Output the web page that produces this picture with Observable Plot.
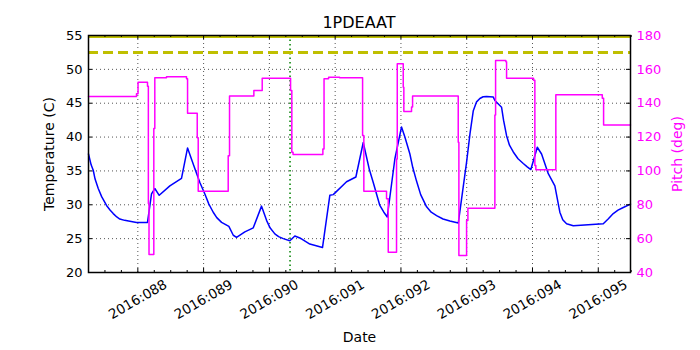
<!DOCTYPE html>
<html><head><meta charset="utf-8">
<script src="https://cdn.jsdelivr.net/npm/d3@7"></script>
<script src="https://cdn.jsdelivr.net/npm/@observablehq/plot@0.6"></script>
<style>
body{margin:0;background:#fff;font-family:"DejaVu Sans",sans-serif;}
#wrap{position:relative;width:700px;height:350px;}
#title{position:absolute;left:88px;width:542px;top:13px;text-align:center;font-size:16px;line-height:20px;color:#000;}
#chart{position:absolute;left:0;top:0;}
</style></head><body>
<div id="wrap"><div id="chart"></div><div id="title">1PDEAAT</div></div>
<script>
// Temperature (C) samples: day-of-year 2016
const tempDays = [87.25,87.29,87.322,87.35,87.398,87.45,87.524,87.58,87.626,87.68,87.726,87.80,87.859,87.980,88.147,88.208,88.258,88.325,88.487,88.664,88.756,88.85,88.943,89.019,89.08,89.146,89.2,89.273,89.384,89.451,89.501,89.627,89.755,89.881,89.957,90.01,90.083,90.14,90.211,90.311,90.387,90.463,90.615,90.808,90.919,90.971,91.173,91.315,91.427,91.52,91.579,91.679,91.74,91.792,91.908,92.009,92.06,92.136,92.18,92.237,92.30,92.390,92.46,92.542,92.64,92.744,92.872,92.998,93.05,93.100,93.150,93.200,93.25,93.302,93.404,93.428,93.530,93.56,93.606,93.65,93.708,93.78,93.860,93.92,93.975,94.073,94.138,94.240,94.340,94.416,94.46,94.518,94.620,95.076,95.15,95.228,95.3,95.380,95.49];
const tempValues = [37.5,35.9,35.1,33.8,32.4,31.2,29.9,29.2,28.7,28.2,27.9,27.7,27.6,27.4,27.4,31.6,32.4,31.4,32.8,33.9,38.4,35.8,33.3,31.6,30.1,28.9,28.1,27.4,26.8,25.5,25.2,26.0,26.6,29.8,27.7,26.6,25.7,25.3,25.0,24.7,25.4,25.1,24.2,23.7,31.4,31.5,33.4,34.1,39.2,35.2,33.3,29.9,28.9,28.2,36.8,41.5,40.0,37.5,35.5,33.5,31.5,29.7,28.9,28.4,27.9,27.6,27.3,36.3,40.5,43.9,45.2,45.7,45.95,46.0,45.9,45.4,44.4,42.5,40.2,38.8,37.8,36.8,36.1,35.6,35.2,38.5,37.5,34.6,32.8,28.9,27.8,27.2,26.9,27.2,27.9,28.7,29.2,29.6,30.1];
// Pitch (deg) step changes
const pitchDays = [87.25,87.98,88.003,88.147,88.160,88.170,88.243,88.258,88.436,88.740,88.756,88.903,88.918,89.374,89.394,89.764,89.891,90.322,90.341,90.360,90.813,90.831,90.900,91.067,91.417,91.436,91.781,91.807,91.933,91.944,92.035,92.044,92.161,92.177,92.871,92.881,92.998,93.018,93.428,93.439,93.595,93.606,94.016,94.036,94.051,94.355,95.061,95.081,95.49];
const pitchValues = [144,145.6,152.4,150,80.8,50.6,125,155,155.6,154.5,134,119.6,88,109,144.2,147.5,154.8,147.5,111,109.7,113,154.4,155.4,155,121,88,83.5,52,107,163.3,149.5,135.1,137.7,144.2,117,50,70.7,78,133,165.2,164.5,154.8,153.5,103.2,100.7,145,143,127.2,127.2];

const dayTicks = [88,89,90,91,92,93,94,95];
const dayLabels = ["2016:088","2016:089","2016:090","2016:091","2016:092","2016:093","2016:094","2016:095"];
const minorDays = d3.range(87.25, 95.5001, 0.25).filter(d => !dayTicks.includes(d));
const tempTicks = [20,25,30,35,40,45,50,55];
const pitchTicks = [40,60,80,100,120,140,160,180];
const warnLimit = 52.5;
const topLimit = 55;
const nowDay = 90.314;
const xDomain = [87.25, 95.49];
const tDomain = [20, 55];
const pDomain = [40, 180];

const p2t = p => tDomain[0] + (p - pDomain[0]) * (tDomain[1]-tDomain[0]) / (pDomain[1]-pDomain[0]);
const temp = tempDays.map((d,i) => ({d, v: tempValues[i]}));
const pitch = pitchDays.map((d,i) => ({d, v: p2t(pitchValues[i])}));

const W = 700, H = 350, mL = 88, mR = 70, mT = 35, mB = 78;
const pxY = (tDomain[1]-tDomain[0]) / (H - mT - mB);   // data units per px (y)
const pxX = (xDomain[1]-xDomain[0]) / (W - mL - mR);   // data units per px (x)
const MAG = "#ff00ff";
const grid = {stroke:"black", strokeOpacity:0.85, strokeDasharray:"1,3", strokeWidth:0.8};

const chart = Plot.plot({
  width: W, height: H,
  marginLeft: mL, marginRight: mR, marginTop: mT, marginBottom: mB,
  style: {fontFamily: '"DejaVu Sans", sans-serif', background: "white", color: "black"},
  x: {domain: xDomain},
  y: {domain: tDomain},
  marks: [
    Plot.gridX(dayTicks, grid),
    Plot.gridY([25,30,35,40,45,50], grid),
    Plot.ruleX([nowDay], {stroke:"#008000", strokeWidth:1.5, strokeDasharray:"1.5,3"}),
    Plot.ruleY([warnLimit], {stroke:"#bfbf00", strokeWidth:3, strokeDasharray:"10,5"}),
    Plot.line(temp, {x:"d", y:"v", stroke:"#0000ff", strokeWidth:1.5, strokeLinejoin:"round"}),
    Plot.line(pitch, {x:"d", y:"v", stroke:MAG, strokeWidth:1.5, curve:"step-after"}),
    Plot.ruleY([topLimit], {stroke:"#bfbf00", strokeWidth:3, dy:1}),
    // inward ticks
    Plot.ruleX(dayTicks, {x:d=>d, y1:tDomain[0], y2:tDomain[0]+4*pxY, stroke:"black"}),
    Plot.ruleX(minorDays, {x:d=>d, y1:tDomain[0], y2:tDomain[0]+2*pxY, stroke:"black"}),
    Plot.ruleX(dayTicks, {x:d=>d, y1:tDomain[1], y2:tDomain[1]-4*pxY, stroke:"black"}),
    Plot.ruleX(minorDays, {x:d=>d, y1:tDomain[1], y2:tDomain[1]-2*pxY, stroke:"black"}),
    Plot.ruleY(tempTicks, {y:d=>d, x1:xDomain[0], x2:xDomain[0]+4*pxX, stroke:"black"}),
    Plot.ruleY(tempTicks, {y:d=>d, x1:xDomain[1], x2:xDomain[1]-4*pxX, stroke:"black"}),
    Plot.frame({stroke:"black", strokeWidth:1.5}),
    Plot.axisX(dayTicks, {anchor:"bottom", tickSize:0, tickPadding:27, tickRotate:-30, textAnchor:"middle", lineAnchor:"middle",
      tickFormat: d => dayLabels[dayTicks.indexOf(d)], fontSize:13.5, label:null}),
    Plot.axisX([], {anchor:"bottom", tickSize:0, label:"Date", labelAnchor:"center", labelArrow:false, labelOffset:69, fontSize:14}),
    Plot.axisY(tempTicks, {anchor:"left", tickSize:0, tickPadding:6, fontSize:13, label:null}),
    Plot.axisY([], {anchor:"left", tickSize:0, label:"Temperature (C)", labelAnchor:"center", labelArrow:false, labelOffset:44, fontSize:14}),
    Plot.axisY(pitchTicks.map(p2t), {anchor:"right", tickSize:0, tickPadding:6, fontSize:13, fill:MAG,
      tickFormat: t => String(Math.round(pDomain[0] + (t - tDomain[0]) * (pDomain[1]-pDomain[0]) / (tDomain[1]-tDomain[0]))), label:null}),
    Plot.axisY([], {anchor:"right", tickSize:0, label:"Pitch (deg)", labelAnchor:"center", labelArrow:false, labelOffset:51, fontSize:14, fill:MAG})
  ]
});
document.getElementById("chart").appendChild(chart);
</script>
</body></html>
